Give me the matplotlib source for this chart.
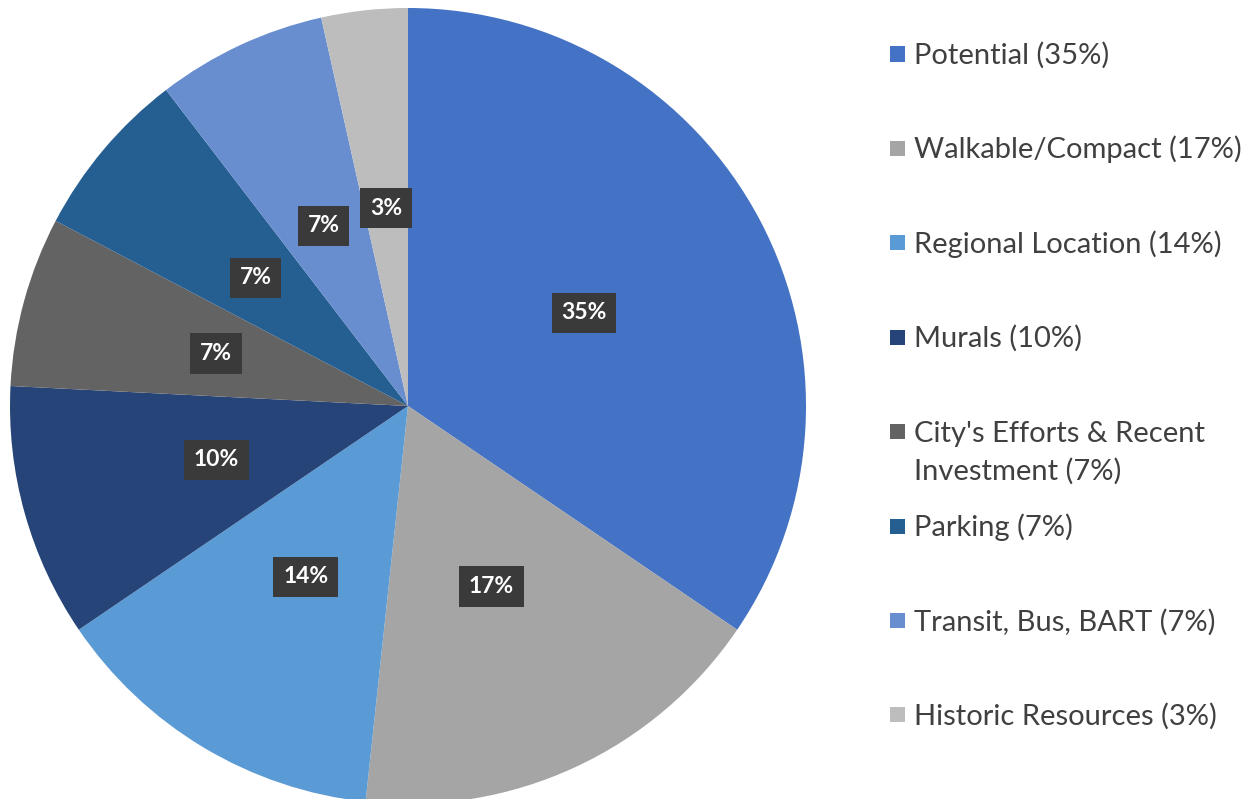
import matplotlib
matplotlib.use("Agg")
import matplotlib.pyplot as plt
from matplotlib.patches import Rectangle
import numpy as np

categories = ["Potential (35%)", "Walkable/Compact (17%)", "Regional Location (14%)",
              "Murals (10%)", "City's Efforts & Recent\nInvestment (7%)", "Parking (7%)",
              "Transit, Bus, BART (7%)", "Historic Resources (3%)"]
values = [34.5, 17.2, 13.8, 10.3, 6.9, 6.9, 6.9, 3.5]
pct_labels = ["35%", "17%", "14%", "10%", "7%", "7%", "7%", "3%"]
colors = ["#4472C4", "#A5A5A5", "#5B9BD5", "#264478", "#636363", "#255E91", "#698ED0", "#BDBDBD"]

plt.rcParams['font.family'] = ['Lato', 'DejaVu Sans']

W, H = 1253, 799
fig = plt.figure(figsize=(W / 100, H / 100), dpi=100)
fig.patch.set_facecolor("white")

cx, cy, r = 408, 406, 398
ax = fig.add_axes([(cx - r) / W, (H - cy - r) / H, 2 * r / W, 2 * r / H])
wedges, texts = ax.pie(values, colors=colors, startangle=90, counterclock=False,
                       radius=1.0, wedgeprops=dict(linewidth=0))
ax.set_xlim(-1, 1)
ax.set_ylim(-1, 1)
ax.set_aspect('equal')
ax.axis('off')

total = sum(values)
start = 90.0
for v, lab in zip(values, pct_labels):
    sweep = v / total * 360
    ang = np.deg2rad(start - sweep / 2)
    start -= sweep
    x, y = 0.5 * np.cos(ang), 0.5 * np.sin(ang)
    ax.text(x, y, lab, ha='center', va='center', color='white', fontsize=16.5,
            fontweight='bold',
            bbox=dict(boxstyle='square,pad=0.42', facecolor='#3a3a3a', edgecolor='none'))

# legend
leg_x = 897
leg_y0 = 54
leg_dy = 94.4
sq = 15
fs = 21
line_gap = 38
for i, (lab, c) in enumerate(zip(categories, colors)):
    yc = leg_y0 + i * leg_dy
    fig.patches.append(Rectangle(((leg_x - sq / 2) / W, (H - yc - sq / 2) / H), sq / W, sq / H,
                                 transform=fig.transFigure, facecolor=c, edgecolor='none'))
    for j, line in enumerate(lab.split("\n")):
        yb = yc + 10 + j * line_gap
        fig.text((leg_x + 17) / W, (H - yb) / H, line, ha='left', va='baseline',
                 fontsize=fs, color='#404040')

fig.savefig("out.png", dpi=100, facecolor="white")
